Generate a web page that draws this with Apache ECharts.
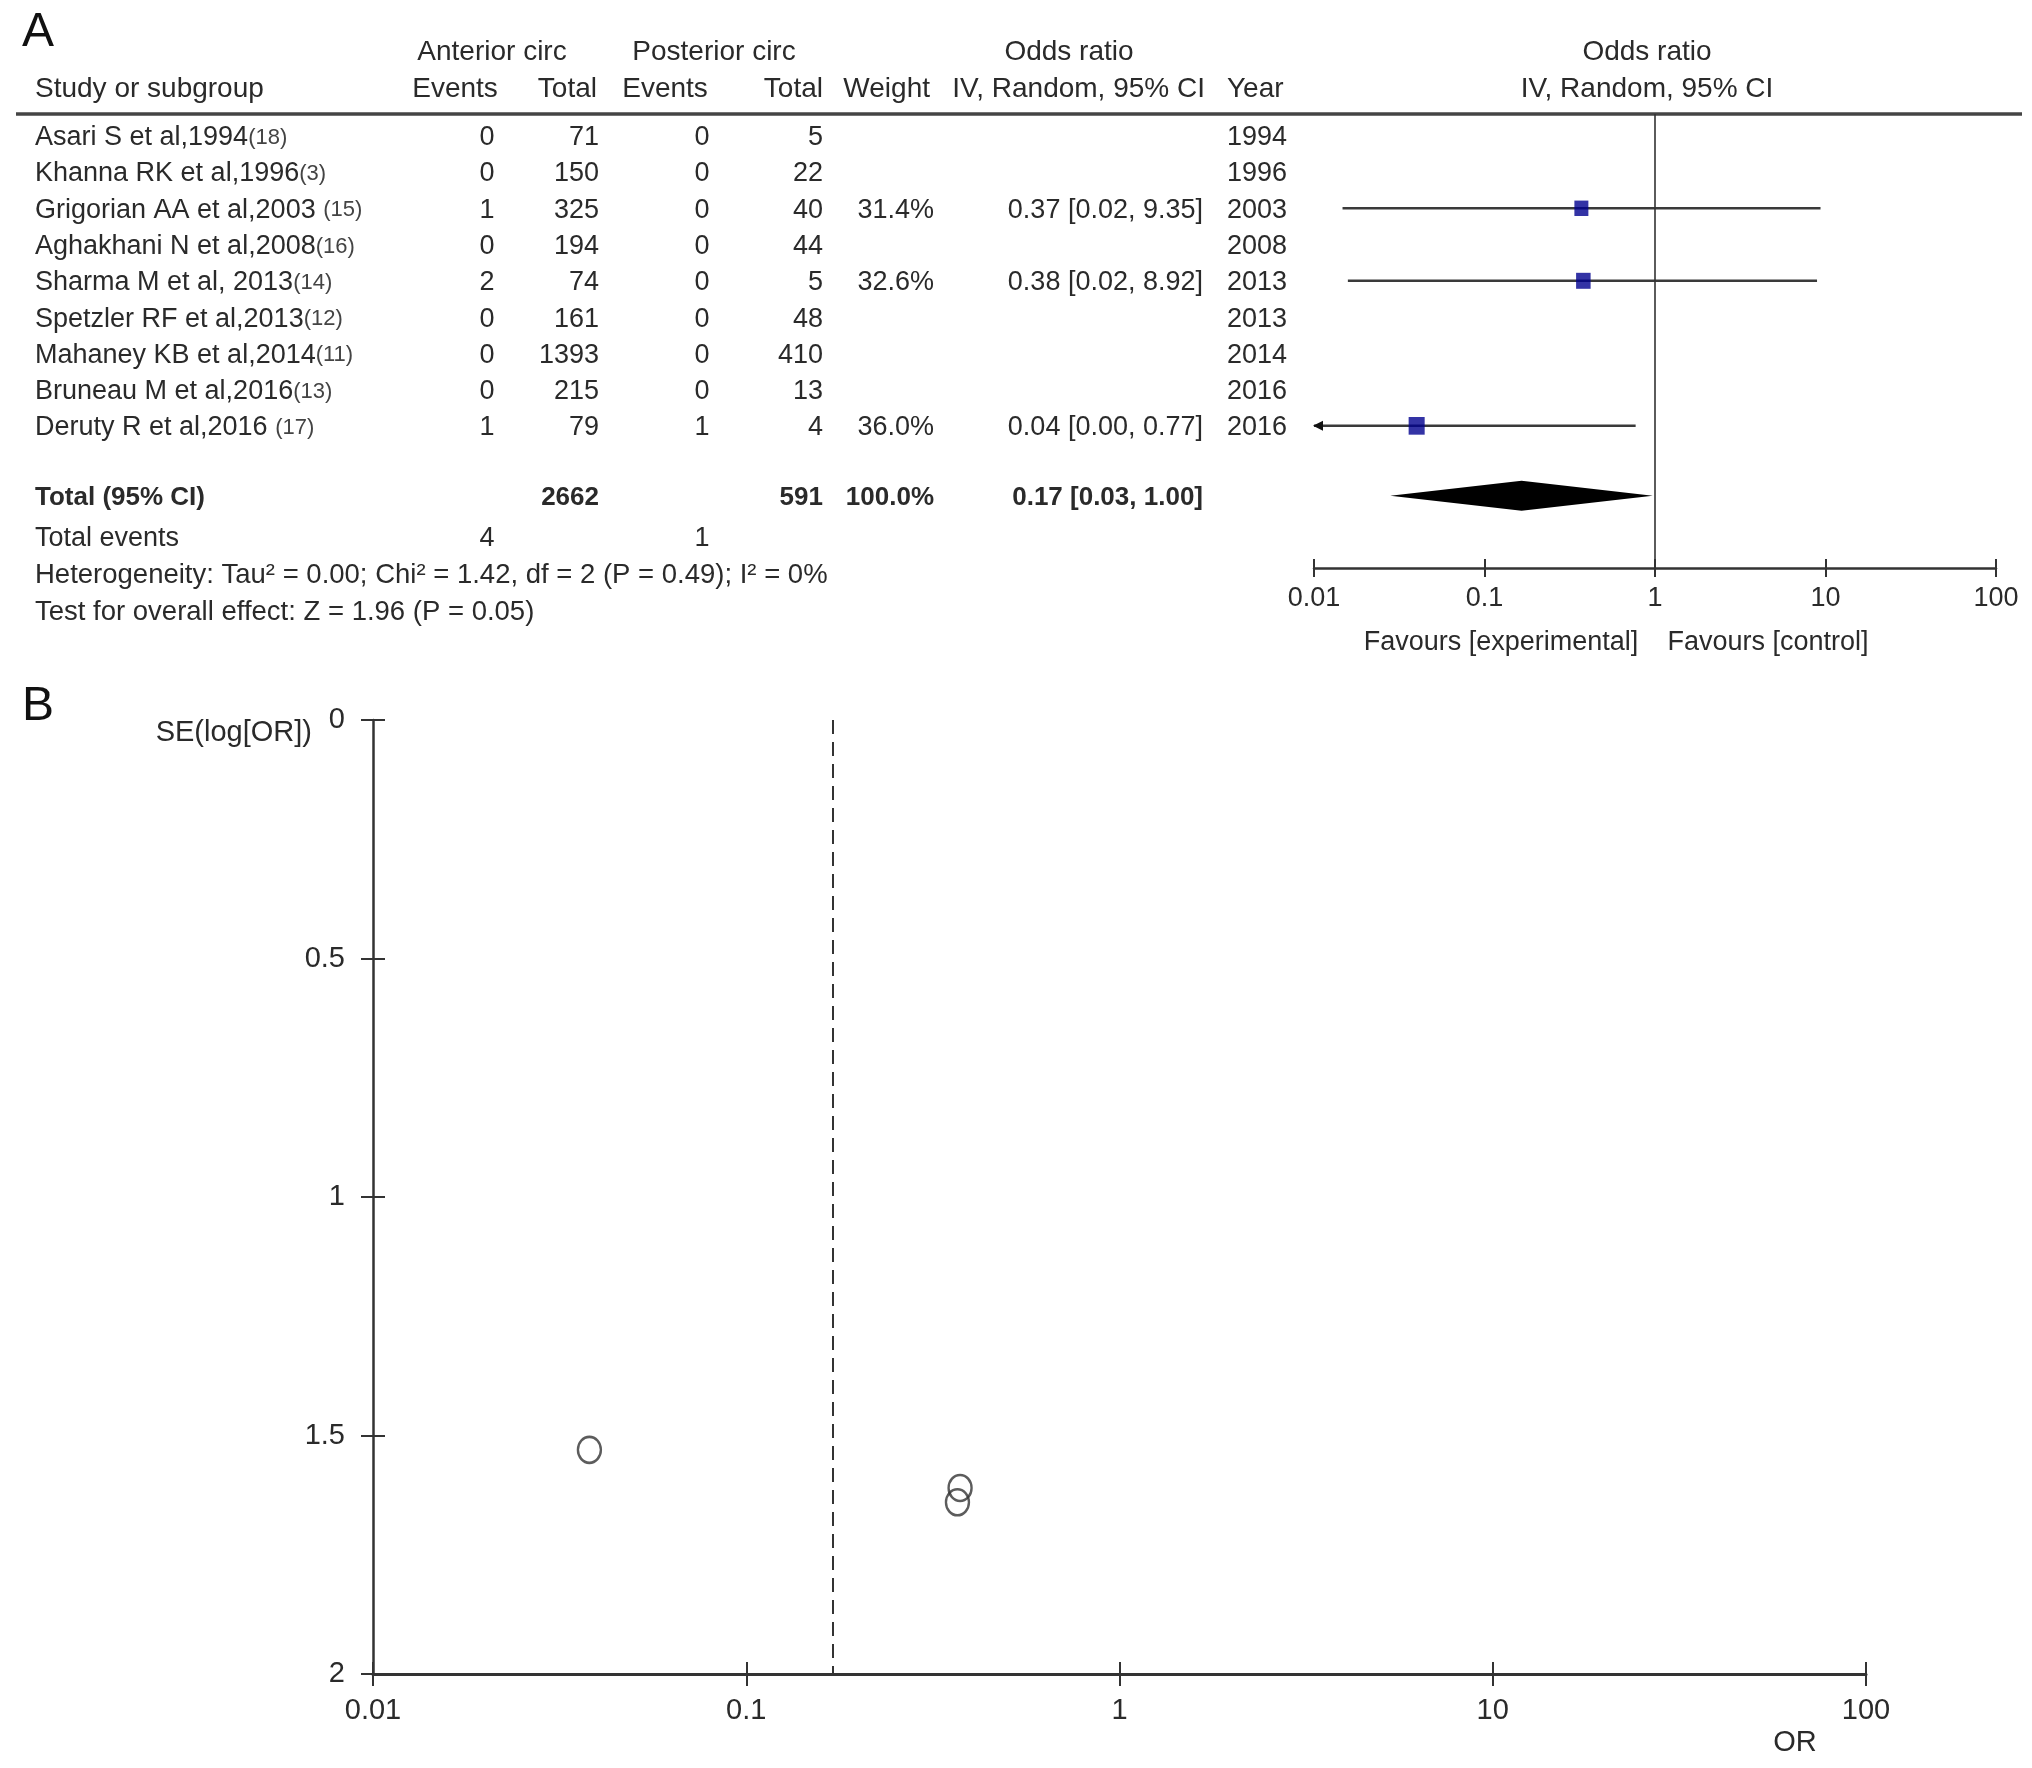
<!DOCTYPE html>
<html><head><meta charset="utf-8">
<script src="https://cdn.jsdelivr.net/npm/echarts@6/dist/echarts.min.js"></script>
<style>html,body{margin:0;padding:0;background:#fff}#c{width:2032px;height:1768px}</style>
</head><body><div id="c"></div>
<script>
// ---------------- DATA ----------------
const studies = ['Asari S et al,1994','Khanna RK et al,1996','Grigorian AA et al,2003 ','Aghakhani N et al,2008','Sharma M et al, 2013','Spetzler RF et al,2013','Mahaney KB et al,2014','Bruneau M et al,2016','Deruty R et al,2016 '];
const refs = ['(18)','(3)','(15)','(16)','(14)','(12)','(11)','(13)','(17)'];
const antEvents = [0,0,1,0,2,0,0,0,1];
const antTotal = [71,150,325,194,74,161,1393,215,79];
const postEvents = [0,0,0,0,0,0,0,0,1];
const postTotal = [5,22,40,44,5,48,410,13,4];
const weights = [null,null,31.4,null,32.6,null,null,null,36.0];
const orEst = [null,null,0.37,null,0.38,null,null,null,0.04];
const ciLowText = [null,null,'0.02',null,'0.02',null,null,null,'0.00'];
const ciHighText = [null,null,'9.35',null,'8.92',null,null,null,'0.77'];
const ciLowPlot = [null,null,0.0147,null,0.0158,null,null,null,0.0021];
const ciHighPlot = [null,null,9.35,null,8.92,null,null,null,0.77];
const years = [1994,1996,2003,2008,2013,2013,2014,2016,2016];
const totalAnt = 2662, totalPost = 591, totalWeight = '100.0%';
const pooledEst = 0.165, pooledLow = 0.028, pooledHigh = 0.97;
const pooledText = '0.17 [0.03, 1.00]';
const eventsAnt = 4, eventsPost = 1;
const hetText = 'Heterogeneity: Tau\u00b2 = 0.00; Chi\u00b2 = 1.42, df = 2 (P = 0.49); I\u00b2 = 0%';
const testText = 'Test for overall effect: Z = 1.96 (P = 0.05)';
const funnelOR = [0.038, 0.374, 0.368];
const funnelSE = [1.53, 1.61, 1.64];
const orTicks = [0.01, 0.1, 1, 10, 100];
const seTicks = [0, 0.5, 1, 1.5, 2];

// ---------------- LAYOUT ----------------
const FONT = 'Liberation Sans, Arial, sans-serif';
const TXT = '#2a2a2a';
const studyRows = studies.map((_, i) => i + 1);
const totalRow = 10.93, eventsRow = 12.06, hetRow = 13.08, testRow = 14.08;
const col = {name:35, antEv:487, antTot:599, postEv:702, postTot:823, weight:934, ci:1203, year:1227};
const forestGrid = {left:1314, top:114, width:682, height:454};
const funnelGrid = {left:373, top:720, width:1493, height:954};

const chart = echarts.init(document.getElementById('c'));

const idx = orEst.map((v, i) => v == null ? -1 : i).filter(i => i >= 0);
const ciData = idx.map(i => [orEst[i], studyRows[i], ciLowPlot[i], ciHighPlot[i], weights[i]]);

const logAxisBase = {type:'log', logBase:10, min:orTicks[0], max:orTicks[orTicks.length-1], splitLine:{show:false}};

const option = {
  backgroundColor:'#fff',
  animation:false,
  grid:[
    Object.assign({outerBoundsMode:'none'}, forestGrid),
    Object.assign({outerBoundsMode:'none'}, forestGrid),
    Object.assign({outerBoundsMode:'none'}, funnelGrid),
    Object.assign({outerBoundsMode:'none'}, funnelGrid)
  ],
  xAxis:[
    Object.assign({}, logAxisBase, {gridIndex:0, position:'bottom',
      axisLine:{show:true, onZero:false, lineStyle:{color:'#333', width:2.5}},
      axisTick:{show:true, inside:false, length:9, lineStyle:{color:'#333', width:2}},
      axisLabel:{show:true, margin:17, fontSize:27, color:TXT, fontFamily:FONT}}),
    Object.assign({}, logAxisBase, {gridIndex:1, position:'bottom',
      axisLine:{show:false, onZero:false},
      axisTick:{show:true, inside:true, length:9, lineStyle:{color:'#333', width:2}},
      axisLabel:{show:false}}),
    Object.assign({}, logAxisBase, {gridIndex:2, position:'bottom',
      axisLine:{show:true, onZero:false, lineStyle:{color:'#333', width:3}},
      axisTick:{show:true, inside:false, length:12, lineStyle:{color:'#333', width:2}},
      axisLabel:{show:true, margin:22, fontSize:29, color:TXT, fontFamily:FONT}}),
    Object.assign({}, logAxisBase, {gridIndex:3, position:'bottom',
      axisLine:{show:false, onZero:false},
      axisTick:{show:true, inside:true, length:12, lineStyle:{color:'#333', width:2}},
      axisLabel:{show:false}})
  ],
  yAxis:[
    {gridIndex:0, type:'value', inverse:true, min:0.4, max:12.92, show:false},
    {gridIndex:1, type:'value', inverse:true, min:0.4, max:12.92, show:false},
    {gridIndex:2, type:'value', inverse:true, min:seTicks[0], max:seTicks[seTicks.length-1], interval:0.5,
      splitLine:{show:false},
      axisLine:{show:true, onZero:false, lineStyle:{color:'#333', width:2.5}},
      axisTick:{show:true, inside:false, length:12, lineStyle:{color:'#333', width:2}},
      axisLabel:{show:true, margin:28, fontSize:29, color:TXT, fontFamily:FONT}},
    {gridIndex:3, type:'value', inverse:true, min:seTicks[0], max:seTicks[seTicks.length-1], interval:0.5,
      splitLine:{show:false},
      axisLine:{show:false, onZero:false},
      axisTick:{show:true, inside:true, length:12, lineStyle:{color:'#333', width:2}},
      axisLabel:{show:false}}
  ],
  series:[
    {
      type:'custom', name:'CI', xAxisIndex:0, yAxisIndex:0, clip:false,
      encode:{x:0, y:1},
      data:ciData,
      renderItem:(params, api) => {
        const row = api.value(1), lo = api.value(2), hi = api.value(3);
        const minV = orTicks[0];
        const a = api.coord([Math.max(lo, minV), row]);
        const b = api.coord([hi, row]);
        const children = [{type:'line', shape:{x1:a[0], y1:a[1], x2:b[0], y2:b[1]}, style:{stroke:'#3a3a3a', lineWidth:2.5}}];
        if (lo < minV) {
          children.push({type:'polygon', shape:{points:[[a[0]-1, a[1]], [a[0]+9, a[1]-5], [a[0]+9, a[1]+5]]}, style:{fill:'#111'}});
        }
        return {type:'group', children};
      },
      markLine:{silent:true, symbol:'none', label:{show:false},
        lineStyle:{color:'#333', width:1.6, type:'solid'},
        data:[{xAxis:1}]}
    },
    {
      type:'scatter', name:'Study OR', xAxisIndex:0, yAxisIndex:0,
      data:ciData.map(d => [d[0], d[1], d[4]]),
      symbol:'rect',
      symbolSize:(v) => { const s = 14 * v[2] / 31.4; return [s, s * 1.1]; },
      itemStyle:{color:'#00008f'},
      z:5
    },
    {
      type:'custom', name:'Pooled', xAxisIndex:0, yAxisIndex:0, clip:false,
      encode:{x:0, y:1},
      data:[[pooledEst, totalRow, pooledLow, pooledHigh]],
      renderItem:(params, api) => {
        const row = api.value(1);
        const c = api.coord([api.value(0), row]);
        const l = api.coord([api.value(2), row]);
        const r = api.coord([api.value(3), row]);
        const h = 15;
        return {type:'polygon', shape:{points:[l, [c[0], c[1]-h], r, [c[0], c[1]+h]]}, style:{fill:'#000'}};
      }
    },
    {
      type:'scatter', name:'Funnel', xAxisIndex:2, yAxisIndex:2,
      data:funnelOR.map((x, i) => [x, funnelSE[i]]),
      symbol:'circle', symbolSize:[23, 26],
      itemStyle:{color:'rgba(255,255,255,0)', borderColor:'#333', borderWidth:2.5},
      markLine:{silent:true, symbol:'none', label:{show:false},
        lineStyle:{color:'#333', width:2, type:[14, 8]},
        data:[{xAxis:pooledEst}]}
    }
  ]
};
chart.setOption(option);

// ---------------- TABLE TEXT (graphic) ----------------
const rowY = (r) => chart.convertToPixel({yAxisIndex:0}, r);
function txt(x, y, text, align, o) {
  o = o || {};
  const st = {text:String(text), x:0, y:0, align:align, verticalAlign:'middle', textAlign:align, textVerticalAlign:'middle',
    fontSize:o.size || 27, fontWeight:o.bold ? 'bold' : 'normal', fontFamily:FONT, fill:o.color || TXT};
  if (o.rich) st.rich = o.rich;
  return {type:'text', x:x, y:y, silent:true, style:st};
}
const g = [];
// panel letters
g.push(txt(22, 33, 'A', 'left', {size:48, color:'#111'}));
g.push(txt(22, 707, 'B', 'left', {size:48, color:'#111'}));
// headers
const h1 = 52, h2 = 89;
g.push(txt(492, h1, 'Anterior circ', 'center', {size:28}));
g.push(txt(714, h1, 'Posterior circ', 'center', {size:28}));
g.push(txt(1069, h1, 'Odds ratio', 'center', {size:28}));
g.push(txt(1647, h1, 'Odds ratio', 'center', {size:28}));
g.push(txt(col.name, h2, 'Study or subgroup', 'left', {size:28}));
g.push(txt(455, h2, 'Events', 'center', {size:28}));
g.push(txt(597, h2, 'Total', 'right', {size:28}));
g.push(txt(665, h2, 'Events', 'center', {size:28}));
g.push(txt(823, h2, 'Total', 'right', {size:28}));
g.push(txt(930, h2, 'Weight', 'right', {size:28}));
g.push(txt(1205, h2, 'IV, Random, 95% CI', 'right', {size:28}));
g.push(txt(col.year, h2, 'Year', 'left', {size:28}));
g.push(txt(1647, h2, 'IV, Random, 95% CI', 'center', {size:28}));
g.push({type:'line', silent:true, shape:{x1:16, y1:114, x2:2022, y2:114}, style:{stroke:'#444', lineWidth:3.5}});
// study rows
studies.forEach((s, i) => {
  const y = rowY(studyRows[i]) + 2;
  g.push(txt(col.name, y, '{n|' + s + '}{r|' + refs[i] + '}', 'left',
    {rich:{n:{fontSize:27, fontFamily:FONT, fill:TXT, color:TXT}, r:{fontSize:22, fontFamily:FONT, fill:'#444', color:'#444'}}}));
  g.push(txt(col.antEv, y, antEvents[i], 'center'));
  g.push(txt(col.antTot, y, antTotal[i], 'right'));
  g.push(txt(col.postEv, y, postEvents[i], 'center'));
  g.push(txt(col.postTot, y, postTotal[i], 'right'));
  if (weights[i] != null) g.push(txt(col.weight, y, weights[i].toFixed(1) + '%', 'right'));
  if (orEst[i] != null) g.push(txt(col.ci, y, orEst[i].toFixed(2) + ' [' + ciLowText[i] + ', ' + ciHighText[i] + ']', 'right'));
  g.push(txt(col.year, y, years[i], 'left'));
});
// totals
const ty = rowY(totalRow) + 2;
g.push(txt(col.name, ty, 'Total (95% CI)', 'left', {bold:true, size:26}));
g.push(txt(col.antTot, ty, totalAnt, 'right', {bold:true, size:26}));
g.push(txt(col.postTot, ty, totalPost, 'right', {bold:true, size:26}));
g.push(txt(col.weight, ty, totalWeight, 'right', {bold:true, size:26}));
g.push(txt(col.ci, ty, pooledText, 'right', {bold:true, size:26}));
const ey = rowY(eventsRow) + 2;
g.push(txt(col.name, ey, 'Total events', 'left'));
g.push(txt(col.antEv, ey, eventsAnt, 'center'));
g.push(txt(col.postEv, ey, eventsPost, 'center'));
g.push(txt(col.name, rowY(hetRow) + 2, hetText, 'left', {size:27.5}));
g.push(txt(col.name, rowY(testRow) + 2, testText, 'left', {size:27.5}));
// favours
g.push(txt(1501, 643, 'Favours [experimental]', 'center', {size:27}));
g.push(txt(1768, 643, 'Favours [control]', 'center', {size:27}));
// funnel labels
g.push(txt(312, 733, 'SE(log[OR])', 'right', {size:29}));
g.push(txt(1795, 1743, 'OR', 'center', {size:29}));

chart.setOption({graphic:{elements:g}});
</script>
</body></html>
